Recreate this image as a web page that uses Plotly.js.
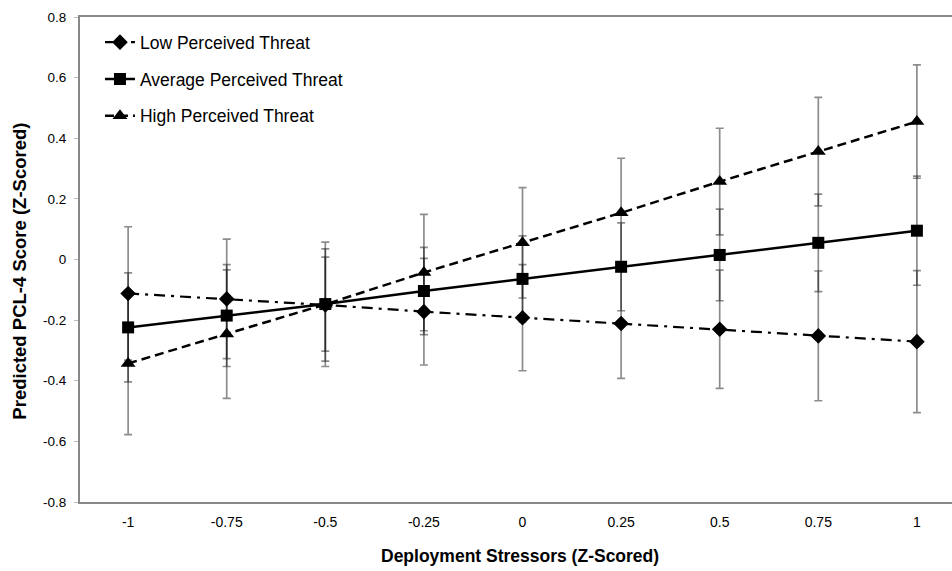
<!DOCTYPE html>
<html>
<head>
<meta charset="utf-8">
<script src="https://cdn.plot.ly/plotly-3.0.1.min.js"></script>
<style>
html,body{margin:0;padding:0;background:#fff;}
#chart{width:952px;height:571px;}
</style>
</head>
<body>
<div id="chart"></div>
<script>
// Data
var stressors = [-1, -0.75, -0.5, -0.25, 0, 0.25, 0.5, 0.75, 1];
var xTickLabels = ["-1", "-0.75", "-0.5", "-0.25", "0", "0.25", "0.5", "0.75", "1"];
var yTickVals = [0.8, 0.6, 0.4, 0.2, 0, -0.2, -0.4, -0.6, -0.8];
var yTickLabels = ["0.8", "0.6", "0.4", "0.2", "0", "-0.2", "-0.4", "-0.6", "-0.8"];

var lowThreat = [-0.112, -0.130, -0.150, -0.172, -0.192, -0.211, -0.230, -0.252, -0.271];
var lowError  = [0.220, 0.197, 0.185, 0.176, 0.175, 0.181, 0.195, 0.214, 0.234];

var avgThreat = [-0.224, -0.185, -0.147, -0.104, -0.064, -0.024, 0.015, 0.055, 0.095];
var avgError  = [0.180, 0.168, 0.155, 0.144, 0.142, 0.145, 0.151, 0.161, 0.180];

var highThreat = [-0.343, -0.246, -0.148, -0.043, 0.055, 0.154, 0.257, 0.356, 0.455];
var highError  = [0.235, 0.212, 0.205, 0.192, 0.182, 0.180, 0.176, 0.179, 0.187];

var xTitle = 'Deployment Stressors (Z-Scored)';
var yTitle = 'Predicted PCL-4 Score (Z-Scored)';

var fam = "Liberation Sans, Arial, sans-serif";
var errStyle = function(arr){
  return {type:'data', array:arr, visible:true, color:'rgba(0,0,0,0.45)', thickness:1.7, width:4};
};

var traces = [
  {
    x: stressors, y: lowThreat, name: 'Low Perceived Threat', type: 'scatter', mode: 'lines+markers',
    legendgroup: 'a',
    line: {color: '#000', width: 2.2, dash: '11px,6px,3px,6px'},
    marker: {symbol: 'diamond', size: 12, color: '#000'},
    error_y: errStyle(lowError)
  },
  {
    x: stressors, y: avgThreat, name: 'Average Perceived Threat', type: 'scatter', mode: 'lines+markers',
    legendgroup: 'b',
    line: {color: '#000', width: 2.5},
    marker: {symbol: 'square', size: 12, color: '#000'},
    error_y: errStyle(avgError)
  },
  {
    x: stressors, y: highThreat, name: 'High Perceived Threat', type: 'scatter', mode: 'lines+markers',
    legendgroup: 'c',
    line: {color: '#000', width: 2.5, dash: '9px,5px'},
    marker: {symbol: 'triangle-up', size: 13, color: '#000'},
    error_y: errStyle(highError)
  }
];

var layout = {
  width: 952, height: 571,
  margin: {l: 80, r: 0, t: 17, b: 69},
  paper_bgcolor: '#fff', plot_bgcolor: '#fff',
  font: {family: fam, color: '#000'},
  showlegend: true,
  legend: {
    x: 0.0229, y: 0.985, xanchor: 'left', yanchor: 'top',
    bgcolor: 'rgba(0,0,0,0)', borderwidth: 0,
    font: {family: fam, size: 17.5, color: '#000'},
    tracegroupgap: 11, itemwidth: 30
  },
  xaxis: {
    range: [-1.122, 1.089],
    tickvals: stressors, ticktext: xTickLabels,
    ticks: '', showgrid: false, zeroline: false,
    showline: true, linecolor: '#888', linewidth: 2, mirror: true,
    tickfont: {family: fam, size: 14, color: '#000'},
    ticklabelstandoff: 6
  },
  yaxis: {
    range: [-0.8, 0.8],
    tickvals: yTickVals, ticktext: yTickLabels,
    ticks: 'outside', ticklen: 4, tickcolor: '#bbb', tickwidth: 1,
    showgrid: false, zeroline: false,
    showline: true, linecolor: '#888', linewidth: 2,
    tickfont: {family: fam, size: 13.5, color: '#000'},
    ticklabelstandoff: 5
  },
  annotations: [
    {
      text: '<b>' + xTitle + '</b>', xref: 'paper', yref: 'paper',
      x: 0.505, y: -0.111, xanchor: 'center', yanchor: 'middle', showarrow: false,
      font: {family: fam, size: 17.5, color: '#000'}
    },
    {
      text: '<b>' + yTitle + '</b>', xref: 'paper', yref: 'paper',
      x: -0.0688, y: 0.475, xanchor: 'center', yanchor: 'middle', showarrow: false,
      textangle: -90,
      font: {family: fam, size: 18.5, color: '#000'}
    }
  ]
};

Plotly.newPlot('chart', traces, layout, {displayModeBar: false, staticPlot: true});
</script>
</body>
</html>
